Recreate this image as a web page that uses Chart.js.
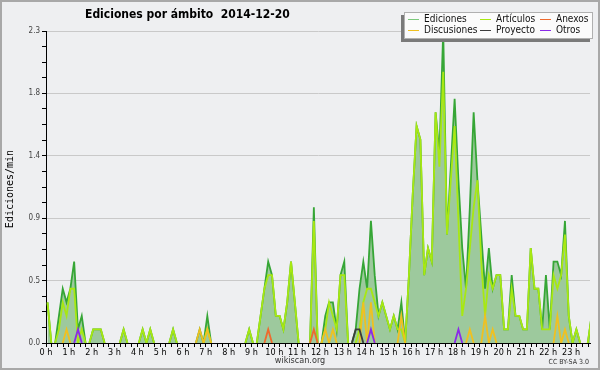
<!DOCTYPE html>
<html>
<head>
<meta charset="utf-8">
<script src="https://cdn.jsdelivr.net/npm/chart.js@4.4.1/dist/chart.umd.min.js"></script>
<style>
  html, body { margin: 0; padding: 0; background: #eeeff1; }
  #chart { display: block; }
</style>
</head>
<body>
<canvas id="chart" width="600" height="370"></canvas>
<script>
// ediciones por minuto, un valor cada 10 min (6 por hora)
const ediciones = [
  0.3, 0, 0, 0.2, 0.4, 0.3,   0.4, 0.6, 0.1, 0.2, 0, 0,
  0.1, 0.1, 0.1, 0, 0, 0,     0, 0, 0.1, 0, 0, 0,
  0, 0.1, 0, 0.1, 0, 0,       0, 0, 0, 0.1, 0, 0,
  0, 0, 0, 0, 0.1, 0,         0.2, 0, 0, 0, 0, 0,
  0, 0, 0, 0, 0, 0.1,         0, 0, 0.2, 0.4, 0.6, 0.5,
  0.2, 0.2, 0.1, 0.3, 0.6, 0.3,   0, 0, 0, 0, 1.0, 0,
  0, 0.2, 0.3, 0.3, 0.1, 0.5,     0.6, 0, 0, 0.1, 0.4, 0.6,
  0.4, 0.9, 0.5, 0.2, 0.3, 0.2,   0.1, 0.2, 0.1, 0.3, 0, 0.5,
  1.1, 1.6, 1.5, 0.5, 0.7, 0.6,   1.7, 1.4, 2.3, 0.8, 1.3, 1.8,
  1.2, 0.7, 0.4, 1.0, 1.7, 1.2,   0.8, 0.4, 0.7, 0.4, 0.5, 0.5,
  0.1, 0.1, 0.5, 0.2, 0.2, 0.1,   0.1, 0.7, 0.4, 0.4, 0.1, 0.5,
  0.1, 0.6, 0.6, 0.5, 0.9, 0.2,   0, 0.1, 0, 0, 0, 0.2
];
const articulos = [
  0.3, 0, 0, 0.1, 0.3, 0.2,   0.4, 0.4, 0, 0.1, 0, 0,
  0.1, 0.1, 0.1, 0, 0, 0,     0, 0, 0.1, 0, 0, 0,
  0, 0.1, 0, 0.1, 0, 0,       0, 0, 0, 0.1, 0, 0,
  0, 0, 0, 0, 0, 0,           0.1, 0, 0, 0, 0, 0,
  0, 0, 0, 0, 0, 0.1,         0, 0, 0.2, 0.4, 0.5, 0.5,
  0.2, 0.2, 0.1, 0.3, 0.6, 0.3,   0, 0, 0, 0, 0.9, 0,
  0, 0.1, 0.3, 0.2, 0.1, 0.5,     0.5, 0, 0, 0, 0.1, 0.3,
  0.4, 0.4, 0.3, 0.2, 0.3, 0.2,   0.1, 0.2, 0.1, 0.1, 0, 0.5,
  1.1, 1.6, 1.5, 0.5, 0.7, 0.6,   1.7, 1.3, 2.0, 0.8, 1.2, 1.6,
  0.9, 0.2, 0.4, 0.7, 1.0, 1.2,   0.6, 0.2, 0.5, 0.4, 0.5, 0.5,
  0.1, 0.1, 0.4, 0.2, 0.2, 0.1,   0.1, 0.7, 0.4, 0.4, 0.1, 0.1,
  0.1, 0.5, 0.4, 0.5, 0.8, 0.2,   0, 0.1, 0, 0, 0, 0.2
];
const anexos = [
  0, 0, 0, 0, 0, 0,   0, 0, 0, 0, 0, 0,
  0, 0, 0, 0, 0, 0,   0, 0, 0, 0, 0, 0,
  0, 0, 0, 0, 0, 0,   0, 0, 0, 0, 0, 0,
  0, 0, 0, 0, 0, 0,   0, 0, 0, 0, 0, 0,
  0, 0, 0, 0, 0, 0,   0, 0, 0, 0, 0.1, 0,
  0, 0, 0, 0, 0, 0,   0, 0, 0, 0, 0.1, 0,
  0, 0, 0, 0, 0, 0,   0, 0, 0, 0, 0, 0,
  0, 0, 0, 0, 0, 0,   0, 0, 0, 0, 0, 0,
  0, 0, 0, 0, 0, 0,   0, 0, 0, 0, 0, 0,
  0, 0, 0, 0, 0, 0,   0, 0, 0, 0, 0, 0,
  0, 0, 0, 0, 0, 0,   0, 0, 0, 0, 0, 0,
  0, 0, 0, 0, 0, 0,   0, 0, 0, 0, 0, 0
];
const discusiones = [
  0, 0, 0, 0, 0, 0.1,   0, 0, 0, 0, 0, 0,
  0, 0, 0, 0, 0, 0,     0, 0, 0, 0, 0, 0,
  0, 0, 0, 0, 0, 0,     0, 0, 0, 0, 0, 0,
  0, 0, 0, 0, 0.1, 0,   0.1, 0, 0, 0, 0, 0,
  0, 0, 0, 0, 0, 0,     0, 0, 0, 0, 0, 0,
  0, 0, 0, 0, 0, 0,     0, 0, 0, 0, 0, 0,
  0, 0.1, 0, 0.1, 0, 0,   0, 0, 0, 0, 0, 0.3,
  0, 0.3, 0, 0, 0, 0,     0, 0, 0, 0.2, 0, 0,
  0, 0, 0, 0, 0, 0,       0, 0, 0, 0, 0, 0,
  0, 0, 0, 0.1, 0, 0,     0, 0.2, 0, 0.1, 0, 0,
  0, 0, 0, 0, 0, 0,       0, 0, 0, 0, 0, 0,
  0, 0, 0.2, 0, 0.1, 0,   0, 0, 0, 0, 0, 0
];
const proyecto = [
  0, 0, 0, 0, 0, 0,   0, 0, 0, 0, 0, 0,
  0, 0, 0, 0, 0, 0,   0, 0, 0, 0, 0, 0,
  0, 0, 0, 0, 0, 0,   0, 0, 0, 0, 0, 0,
  0, 0, 0, 0, 0, 0,   0, 0, 0, 0, 0, 0,
  0, 0, 0, 0, 0, 0,   0, 0, 0, 0, 0, 0,
  0, 0, 0, 0, 0, 0,   0, 0, 0, 0, 0, 0,
  0, 0, 0, 0, 0, 0,   0, 0, 0, 0.1, 0.1, 0,
  0, 0, 0, 0, 0, 0,   0, 0, 0, 0, 0, 0,
  0, 0, 0, 0, 0, 0,   0, 0, 0, 0, 0, 0,
  0, 0, 0, 0, 0, 0,   0, 0, 0, 0, 0, 0,
  0, 0, 0, 0, 0, 0,   0, 0, 0, 0, 0, 0,
  0, 0, 0, 0, 0, 0,   0, 0, 0, 0, 0, 0
];
const otros = [
  0, 0, 0, 0, 0, 0,   0, 0, 0.1, 0, 0, 0,
  0, 0, 0, 0, 0, 0,   0, 0, 0, 0, 0, 0,
  0, 0, 0, 0, 0, 0,   0, 0, 0, 0, 0, 0,
  0, 0, 0, 0, 0, 0,   0, 0, 0, 0, 0, 0,
  0, 0, 0, 0, 0, 0,   0, 0, 0, 0, 0, 0,
  0, 0, 0, 0, 0, 0,   0, 0, 0, 0, 0, 0,
  0, 0, 0, 0, 0, 0,   0, 0, 0, 0, 0, 0,
  0, 0.1, 0, 0, 0, 0,   0, 0, 0, 0, 0, 0,
  0, 0, 0, 0, 0, 0,   0, 0, 0, 0, 0, 0,
  0.1, 0, 0, 0, 0, 0,   0, 0, 0, 0, 0, 0,
  0, 0, 0, 0, 0, 0,   0, 0, 0, 0, 0, 0,
  0, 0, 0, 0, 0, 0,   0, 0, 0, 0, 0, 0
];

const horas = ['0 h','1 h','2 h','3 h','4 h','5 h','6 h','7 h','8 h','9 h','10 h','11 h',
  '12 h','13 h','14 h','15 h','16 h','17 h','18 h','19 h','20 h','21 h','22 h','23 h'];
const yMax = 2.3;
const yLabels = ['0.0', '0.5', '0.9', '1.4', '1.8', '2.3'];

const FONT = '"DejaVu Sans Condensed", "DejaVu Sans", sans-serif';

// each value sits in its 10 minute bin, x in hours
function serie(values) {
  return values.map((v, i) => ({ x: (i + 0.4) / 6, y: v }));
}

// segments lying flat on zero are hidden behind the axis, like the original
const hideZero = {
  borderColor: (c) => (c.p0.parsed.y === 0 && c.p1.parsed.y === 0) ? 'rgba(0,0,0,0)' : undefined
};

const decor = {
  id: 'decor',
  beforeDraw(chart) {
    const ctx = chart.ctx;
    ctx.save();
    ctx.fillStyle = '#eeeff1';
    ctx.fillRect(0, 0, chart.width, chart.height);
    ctx.strokeStyle = '#a8a8a8';
    ctx.lineWidth = 2;
    ctx.strokeRect(1, 1, chart.width - 2, chart.height - 2);
    ctx.restore();
  },
  afterDraw(chart) {
    const ctx = chart.ctx;
    ctx.save();
    ctx.fillStyle = '#000';
    ctx.font = 'bold 12px ' + FONT;
    ctx.textBaseline = 'alphabetic';
    ctx.fillText('Ediciones por ámbito  2014-12-20', 85, 18);

    ctx.font = '10px "DejaVu Sans Mono", monospace';
    ctx.translate(13, 189);
    ctx.rotate(-Math.PI / 2);
    ctx.textAlign = 'center';
    ctx.fillText('Ediciones/min', 0, 0);
    ctx.restore();

    ctx.save();
    ctx.fillStyle = '#333';
    ctx.font = '9px ' + FONT;
    ctx.textAlign = 'center';
    ctx.fillText('wikiscan.org', 300, 363);
    ctx.font = '7px ' + FONT;
    ctx.textAlign = 'right';
    ctx.fillText('CC BY-SA 3.0', 589, 364);

    // legend box
    ctx.fillStyle = '#7a7a7a';
    ctx.fillRect(401, 15, 189, 27);
    ctx.fillStyle = '#fbfbfb';
    ctx.fillRect(404, 12, 189, 27);
    ctx.strokeStyle = '#b0b0b0';
    ctx.lineWidth = 1;
    ctx.strokeRect(404.5, 12.5, 188, 26);
    const cols = [408, 480, 540];
    const rows = [19, 30];
    ctx.font = '10px ' + FONT;
    ctx.textAlign = 'left';
    ctx.textBaseline = 'middle';
    chart.data.datasets.forEach((ds, i) => {
      const x = cols[i % 3];
      const y = rows[Math.floor(i / 3)];
      ctx.strokeStyle = ds.legendColor || ds.borderColor;
      ctx.beginPath();
      ctx.moveTo(x, y + 0.5);
      ctx.lineTo(x + 11, y + 0.5);
      ctx.stroke();
      ctx.fillStyle = '#111';
      ctx.fillText(ds.label, x + 16, y);
    });
    ctx.restore();
  }
};

new Chart(document.getElementById('chart'), {
  type: 'line',
  data: {
    datasets: [
      { label: 'Ediciones', data: serie(ediciones), borderColor: '#36a636', legendColor: '#7cc97c',
        backgroundColor: '#9dc99d', fill: 'origin', order: 6, segment: hideZero },
      { label: 'Artículos', data: serie(articulos), borderColor: '#a8e812', fill: false, order: 5, segment: hideZero },
      { label: 'Anexos', data: serie(anexos), borderColor: '#ee6a2e', fill: false, order: 4, segment: hideZero },
      { label: 'Discusiones', data: serie(discusiones), borderColor: '#f0c020', fill: false, order: 3, segment: hideZero },
      { label: 'Proyecto', data: serie(proyecto), borderColor: '#3c3c3c', fill: false, order: 2, segment: hideZero },
      { label: 'Otros', data: serie(otros), borderColor: '#8a2be8', fill: false, order: 1, segment: hideZero }
    ]
  },
  options: {
    responsive: false,
    animation: false,
    devicePixelRatio: 1,
    layout: { padding: { left: 0, right: 10, top: 31, bottom: 0 } },
    elements: {
      line: { borderWidth: 1.8, tension: 0 },
      point: { radius: 0 }
    },
    plugins: {
      legend: { display: false },
      title: { display: false },
      tooltip: { enabled: false }
    },
    scales: {
      x: {
        type: 'linear',
        min: 0,
        max: 23.83,
        afterFit(scale) { scale.height = 27; },
        afterBuildTicks(scale) {
          const t = [];
          for (let q = 0; q < 96; q++) t.push({ value: q / 4 });
          scale.ticks = t;
        },
        ticks: {
          autoSkip: false,
          maxRotation: 0,
          minRotation: 0,
          padding: 0,
          color: '#000',
          font: { family: FONT, size: 9 },
          callback: (v) => Number.isInteger(v) ? horas[v] : ''
        },
        grid: { drawOnChartArea: false, tickLength: 4, tickColor: '#000' },
        border: { color: '#000', width: 1 }
      },
      y: {
        min: 0,
        max: yMax,
        afterFit(scale) { scale.width = 46; },
        afterBuildTicks(scale) {
          const t = [];
          for (let k = 0; k <= 20; k++) t.push({ value: yMax * k / 20 });
          scale.ticks = t;
        },
        ticks: {
          autoSkip: false,
          padding: 2,
          color: '#444',
          font: { family: FONT, size: 8 },
          callback: (v, i) => i % 4 === 0 ? yLabels[i / 4] : ''
        },
        grid: {
          tickLength: 4,
          tickColor: '#000',
          color: (c) => (c.index % 4 === 0 && c.index > 0) ? '#c9c9c9' : 'rgba(0,0,0,0)'
        },
        border: { color: '#000', width: 1 }
      }
    }
  },
  plugins: [decor]
});
</script>
</body>
</html>
